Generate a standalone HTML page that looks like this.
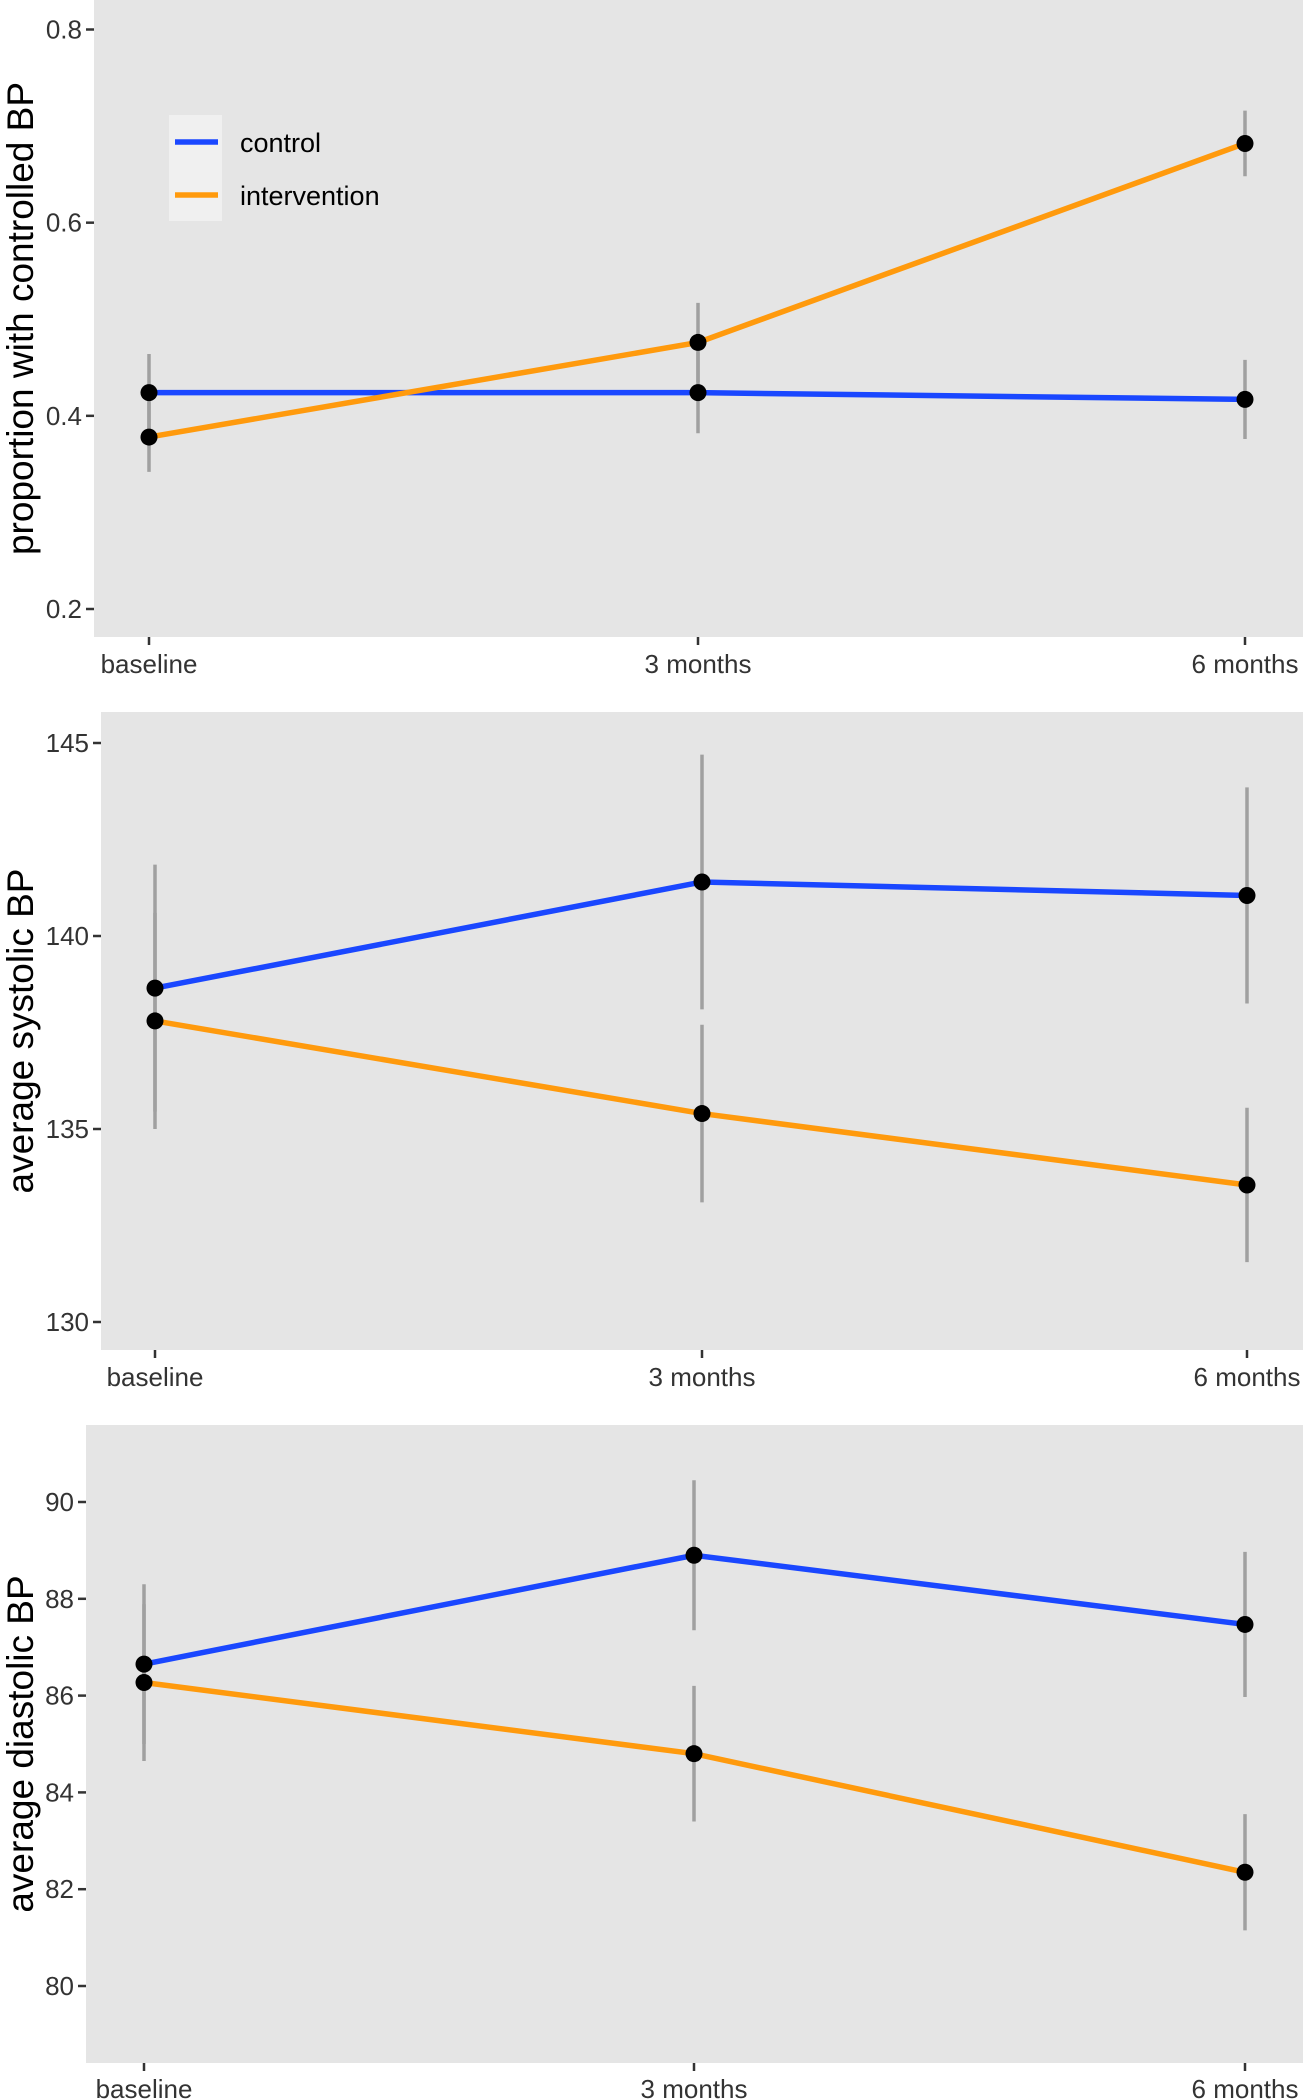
<!DOCTYPE html>
<html><head><meta charset="utf-8"><style>
html,body{margin:0;padding:0;background:#fff;}
svg{display:block;font-family:"Liberation Sans",Arial,sans-serif;}
</style></head><body>
<svg id="c" width="1303" height="2100"></svg>
<script>
const categories=["baseline","3 months","6 months"];
const p1Control=[0.424,0.424,0.417];
const p1ControlErr=[0.040,0.042,0.041];
const p1Interv=[0.378,0.476,0.682];
const p1IntervErr=[0.036,0.041,0.034];
const p1Ticks=[0.2,0.4,0.6,0.8];
const p2Control=[138.65,141.4,141.05];
const p2ControlErr=[3.2,3.3,2.8];
const p2Interv=[137.8,135.4,133.55];
const p2IntervErr=[2.8,2.3,2.0];
const p2Ticks=[130,135,140,145];
const p3Control=[86.65,88.9,87.47];
const p3ControlErr=[1.65,1.55,1.5];
const p3Interv=[86.27,84.8,82.35];
const p3IntervErr=[1.62,1.4,1.2];
const p3Ticks=[80,82,84,86,88,90];

const NS="http://www.w3.org/2000/svg";
const svg=document.getElementById('c');
function mk(tag,attrs,parent){const e=document.createElementNS(NS,tag);for(const k in attrs)e.setAttribute(k,attrs[k]);(parent||svg).appendChild(e);return e;}

const panels=[
 {name:'controlled',title:'proportion with controlled BP',left:94,top:0,bottom:637,xs:[149,698,1245],t0:0.8,y0:29.5,t1:0.2,y1:609,ticks:p1Ticks,fmt:v=>v.toFixed(1),c:p1Control,ce:p1ControlErr,i:p1Interv,ie:p1IntervErr,labY:673,legend:true},
 {name:'systolic',title:'average systolic BP',left:101,top:712,bottom:1350,xs:[155,702,1247],t0:145,y0:743,t1:130,y1:1322,ticks:p2Ticks,fmt:v=>String(v),c:p2Control,ce:p2ControlErr,i:p2Interv,ie:p2IntervErr,labY:1386},
 {name:'diastolic',title:'average diastolic BP',left:86,top:1425,bottom:2063,xs:[144,694,1245],t0:90,y0:1502,t1:80,y1:1986,ticks:p3Ticks,fmt:v=>String(v),c:p3Control,ce:p3ControlErr,i:p3Interv,ie:p3IntervErr,labY:2098}
];

panels.forEach(p=>{
  const g=mk('g',{});
  
  
  const y=v=>p.y0+(v-p.t0)*(p.y1-p.y0)/(p.t1-p.t0);
  const x=i=>p.xs[i];
  const bg=mk('rect',{x:p.left,y:p.top,width:1303-p.left,height:p.bottom-p.top,fill:'#e5e5e5'},g);
  
  
  p.ticks.forEach(t=>{
    mk('line',{x1:p.left-8,x2:p.left,y1:y(t),y2:y(t),stroke:'#333','stroke-width':2.5},g);
    const tx=mk('text',{x:p.left-12,y:y(t)+9,'text-anchor':'end','font-size':26,fill:'#333'},g);
    tx.textContent=p.fmt(t);
    
    
  });
  categories.forEach((c,i)=>{
    mk('line',{x1:x(i),x2:x(i),y1:p.bottom,y2:p.bottom+8,stroke:'#333','stroke-width':2.5},g);
    const tx=mk('text',{x:x(i),y:p.labY,'text-anchor':'middle','font-size':26,fill:'#333'},g);
    tx.textContent=c;
    
    
  });
  const cy=(p.top+p.bottom)/2;
  const tt=mk('text',{x:0,y:0,transform:`translate(33,${cy}) rotate(-90)`,'text-anchor':'middle','font-size':37,fill:'#000'},g);
  tt.textContent=p.title;
  
  
  [[p.c,p.ce],[p.i,p.ie]].forEach(([vals,errs])=>{
    vals.forEach((v,i)=>{
      const e=mk('line',{x1:x(i),x2:x(i),y1:y(v-errs[i]),y2:y(v+errs[i]),stroke:'#a0a0a0','stroke-width':3.5},g);
      
      
    });
  });
  [[p.c,'#1a47ff','control'],[p.i,'#ff9a0d','intervention']].forEach(([vals,col,nm])=>{
    const l=mk('polyline',{points:vals.map((v,i)=>x(i)+','+y(v)).join(' '),fill:'none',stroke:col,'stroke-width':5.5},g);
    
    
  });
  [p.c,p.i].forEach(vals=>vals.forEach((v,i)=>{
    const d=mk('circle',{cx:x(i),cy:y(v),r:8.5,fill:'#000'},g);
    
    
  }));
  if(p.legend){
    const lg=mk('g',{},g);
    
    
    mk('rect',{x:169,y:115,width:53,height:106,fill:'#f0f0f0'},lg);
    [['control','#1a47ff',142],['intervention','#ff9a0d',195]].forEach(([t,col,yy])=>{
      mk('line',{x1:175,x2:218,y1:yy,y2:yy,stroke:col,'stroke-width':5.5},lg);
      const tx=mk('text',{x:240,y:yy+10,'font-size':27,fill:'#000'},lg);
      tx.textContent=t;
      
      
    });
  }
});
</script>
</body></html>
